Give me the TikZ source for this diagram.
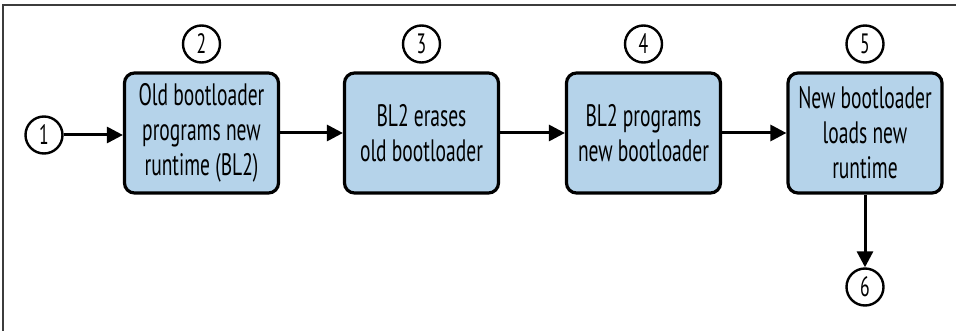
\documentclass[tikz,border=0pt]{standalone}
\usepackage{fontspec}
\setmainfont{PT Sans}[FakeStretch=0.63]
\usetikzlibrary{arrows.meta}
\definecolor{boxblue}{RGB}{181,211,234}
\definecolor{framegray}{RGB}{60,60,60}
\tikzset{
  stepbox/.style={draw=black, line width=3.2pt, fill=boxblue, rounded corners=10pt,
    minimum width=154pt, minimum height=120pt, inner sep=0pt, align=center,
    font=\fontsize{31}{35}\selectfont},
  numcirc/.style={draw=black, line width=2.4pt, circle, minimum size=37pt, inner sep=0pt,
    font=\fontsize{28}{28}\selectfont},
  flow/.style={line width=3pt, -{Triangle[length=16pt,width=16pt]}}
}
\begin{document}
\begin{tikzpicture}[x=1pt,y=-1pt]
\useasboundingbox (0,0) rectangle (956,331);
\draw[framegray, line width=1.8pt] (3,331) -- (3,5) -- (956,5);
\node[stepbox] (b1) at (201.5,133) {Old bootloader\\programs new\\runtime (BL2)};
\node[stepbox] (b2) at (421.5,133) {BL2 erases\\old bootloader};
\node[stepbox] (b3) at (643.5,133) {BL2 programs\\new bootloader};
\node[stepbox] (b4) at (865,133) {New bootloader\\loads new\\runtime};
\node[numcirc] (c1) at (44,135) {1};
\node[numcirc] (c2) at (201.5,44) {2};
\node[numcirc] (c3) at (421.5,44) {3};
\node[numcirc] (c4) at (643.5,44) {4};
\node[numcirc] (c5) at (865,44) {5};
\node[numcirc] (c6) at (865,287) {6};
\draw[flow] (c1) -- (b1.west |- c1);
\draw[flow] (b1) -- (b2);
\draw[flow] (b2) -- (b3);
\draw[flow] (b3) -- (b4);
\draw[flow] (b4) -- (c6);
\end{tikzpicture}
\end{document}
